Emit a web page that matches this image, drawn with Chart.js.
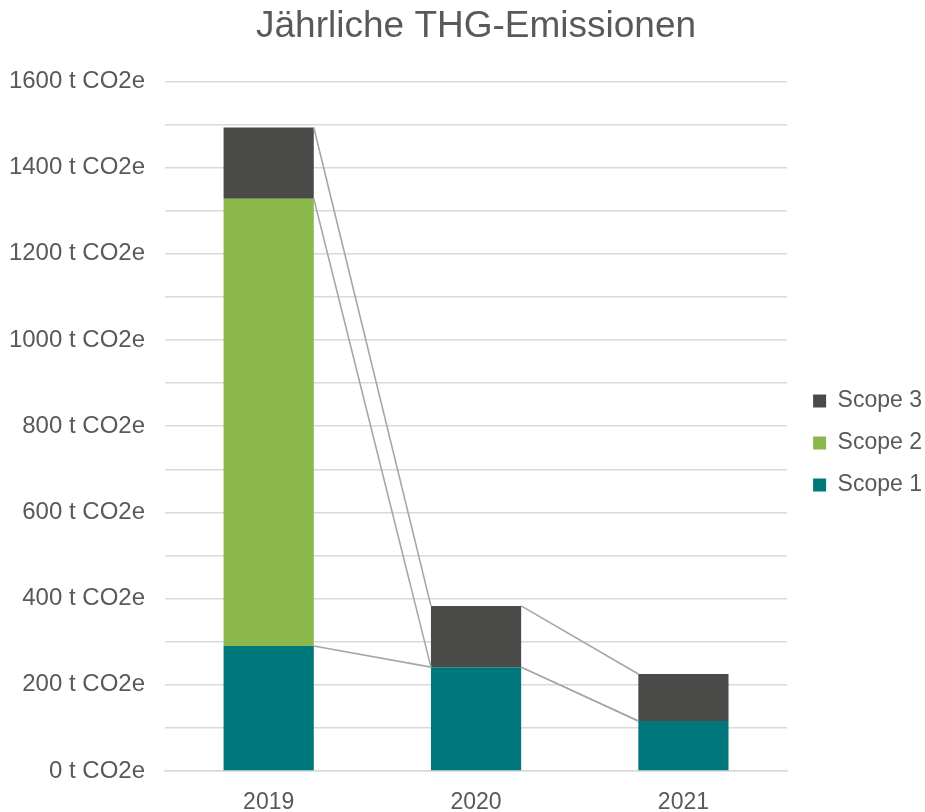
<!DOCTYPE html>
<html lang="de">
<head>
  <meta charset="UTF-8" />
  <title>Jährliche THG-Emissionen</title>
  <script src="https://cdn.jsdelivr.net/npm/chart.js"></script>
  <style>
    html, body { margin: 0; padding: 0; background: #fff; overflow: hidden; }
    canvas { display: block; }
  </style>
</head>
<body>
  <canvas id="chart-thg" width="925" height="812"></canvas>

  <script>
    // Daten
    const jahre = ["2019", "2020", "2021"];
    const scope1 = [290, 241, 116];
    const scope2 = [1038, 0, 0];
    const scope3 = [165, 142, 109];
    const yTicks = [0, 200, 400, 600, 800, 1000, 1200, 1400, 1600];

    const textFarbe = "#595959";
    const schrift = "'Liberation Sans', Arial, sans-serif";

    // Verbindungslinien zwischen den Säulen (wie in Excel)
    const serienLinien = {
      id: "serienLinien",
      afterDatasetsDraw(chart) {
        const ctx = chart.ctx;
        const yScale = chart.scales.y;
        ctx.save();
        ctx.strokeStyle = "#A6A6A6";
        ctx.lineWidth = 1.6;
        chart.data.datasets.forEach((ds, di) => {
          const meta = chart.getDatasetMeta(di);
          for (let i = 0; i < meta.data.length - 1; i++) {
            const a = meta.data[i];
            const b = meta.data[i + 1];
            const topA = chart.data.datasets.slice(0, di + 1).reduce((s, d) => s + d.data[i], 0);
            const topB = chart.data.datasets.slice(0, di + 1).reduce((s, d) => s + d.data[i + 1], 0);
            ctx.beginPath();
            ctx.moveTo(a.x + a.width / 2, yScale.getPixelForValue(topA));
            ctx.lineTo(b.x - b.width / 2, yScale.getPixelForValue(topB));
            ctx.stroke();
          }
        });
        ctx.restore();
      }
    };

    // Legende etwas nach rechts unten schieben (wie im Original)
    const legendeVerschieben = {
      id: "legendeVerschieben",
      afterLayout(chart) {
        const lg = chart.legend;
        if (!lg) return;
        lg.left += 7; lg.right += 7;
        lg.top += 37; lg.bottom += 37;
      }
    };

    const ctx = document.getElementById("chart-thg").getContext("2d");
    new Chart(ctx, {
      type: "bar",
      data: {
        labels: jahre,
        datasets: [
          { label: "Scope 1", data: scope1, backgroundColor: "#00777A" },
          { label: "Scope 2", data: scope2, backgroundColor: "#8BB84B" },
          { label: "Scope 3", data: scope3, backgroundColor: "#4A4A48" }
        ]
      },
      options: {
        responsive: false,
        animation: false,
        layout: { padding: { left: 10, right: 0, top: 0, bottom: 0 } },
        datasets: {
          bar: { categoryPercentage: 1, barPercentage: 0.435, borderWidth: 0 }
        },
        scales: {
          x: {
            stacked: true,
            grid: { display: false, drawTicks: false },
            border: { display: true, color: "#D9D9D9", width: 1.5 },
            ticks: { color: textFarbe, padding: 18, font: { family: schrift, size: 23 } },
            afterFit: scale => { scale.height = 41; }
          },
          y: {
            stacked: true,
            min: 0,
            max: 1600,
            grid: { color: "#D9D9D9", lineWidth: 1.5, drawTicks: false },
            border: { display: false },
            ticks: {
              stepSize: 100,
              padding: 20,
              color: textFarbe,
              font: { family: schrift, size: 24 },
              callback: v => yTicks.includes(v) ? v + " t CO2e" : ""
            },
            afterFit: scale => { scale.width = 155; }
          }
        },
        plugins: {
          title: {
            display: true,
            fullSize: false,
            text: "Jährliche THG-Emissionen",
            color: textFarbe,
            font: { family: schrift, size: 37, weight: "normal" },
            padding: { top: 5, bottom: 32 }
          },
          legend: {
            position: "right",
            reverse: true,
            labels: {
              color: textFarbe,
              boxWidth: 13,
              boxHeight: 13,
              padding: 19,
              font: { family: schrift, size: 23 }
            }
          },
          tooltip: { enabled: false }
        }
      },
      plugins: [serienLinien, legendeVerschieben]
    });
  </script>
</body>
</html>
